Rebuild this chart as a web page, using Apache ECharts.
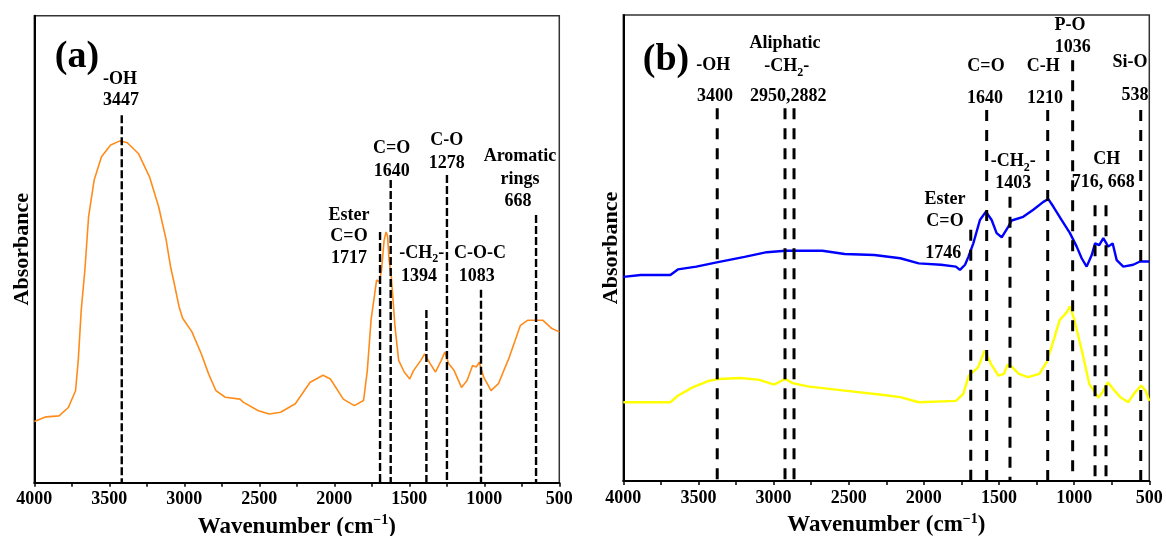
<!DOCTYPE html>
<html>
<head>
<meta charset="utf-8">
<script src="https://cdn.jsdelivr.net/npm/echarts@6/dist/echarts.min.js"></script>
<style>
html,body{margin:0;padding:0;background:#fff;}
#c{width:1166px;height:536px;}
</style>
</head>
<body>
<div id="c"></div>
<script>
// ---------- Panel (a) data: wavenumber (cm-1) and absorbance (a.u.) ----------
const wnA = [4000,3921,3835,3773,3725,3707,3687,3663,3638,3601,3552,3491,3429,3380,3306,3232,3171,3121,3092,3072,3035,3011,2949,2887,2838,2789,2727,2629,2605,2506,2432,2358,2260,2161,2075,2026,1940,1866,1805,1780,1755,1718,1700,1685,1668,1655,1645,1635,1620,1595,1571,1534,1497,1472,1423,1398,1361,1325,1287,1263,1238,1201,1152,1115,1078,1053,1034,1004,955,906,833,759,709,611,549,500];
const absA = [13.1,14.1,14.3,16.1,19.7,26.2,37.0,45.5,57.0,64.8,69.8,72.3,73.2,72.8,70.5,65.5,59.1,52.0,46.3,43.4,37.7,35.2,32.3,27.6,23.3,19.7,18.3,17.9,17.2,15.4,14.7,15.1,16.9,21.5,23.0,22.2,17.9,16.5,17.6,24.0,34.8,43.4,43.0,45.5,51.9,53.7,52.8,47.7,44.1,33.3,26.2,23.7,22.2,24.0,26.2,27.6,25.5,23.7,26.2,28.0,25.5,24.0,20.4,21.9,25.1,24.8,25.8,22.6,19.7,21.2,26.9,33.7,34.8,34.8,33.0,32.3];

// dashed marker lines in (a): drawn position and top (a.u.)
const markWnA  = [3417,1695,1624,1386,1249,1022,655];
const markTopA = [78.7,53.7,64.8,37.0,65.9,41.3,57.3];

// ---------- Panel (b) data ----------
const wnBlue = [4000,3884,3687,3637,3514,3378,3193,3045,2922,2675,2527,2330,2157,2034,1886,1787,1760,1726,1704,1671,1627,1587,1549,1516,1482,1438,1416,1339,1272,1205,1172,1139,1083,1028,983,950,917,883,861,833,806,773,744,717,673,607,562,507,500];
const absBlue = [43.8,44.2,44.2,45.4,46.0,46.9,48.1,49.1,49.4,49.4,48.7,48.5,47.8,46.7,46.4,46.0,45.3,46.4,48.1,51.0,56.0,57.8,56.0,53.2,52.3,54.6,55.9,56.7,58.2,59.9,60.5,58.9,56.0,53.2,50.3,47.8,46.0,48.5,51.0,50.6,52.1,50.3,51.0,47.4,46.0,46.4,47.1,47.1,47.1];

const wnYellow = [4000,3687,3637,3539,3440,3366,3218,3095,2996,2922,2873,2774,2527,2281,2157,2034,1787,1738,1701,1639,1595,1553,1504,1467,1442,1418,1368,1307,1232,1183,1134,1097,1047,1028,998,949,899,838,813,776,739,690,640,603,554,525,500];
const absYellow = [16.9,16.9,18.3,20.1,21.4,21.9,22.1,21.7,20.7,21.9,21.0,20.3,19.4,18.5,18.0,16.9,17.2,18.7,22.6,24.4,28.0,25.1,22.6,23.0,25.0,24.6,23.0,22.3,23.0,25.5,30.5,34.5,36.3,37.5,34.5,28.0,20.8,17.9,19.0,21.2,19.7,17.9,16.9,18.7,20.5,19.4,17.2];

const markWnB  = [3375,2924,2864,1688,1582,1427,1176,1010,861,788,557];
const markTopB = [80.0,80.0,80.0,53.9,79.6,61.0,79.6,90.3,59.2,59.2,79.6];

// x-axis ticks
const xMin = 500, xMax = 4000, xStep = 500;

// annotation texts: [text, centerX, centerY]
const labelsA = [
  ['-OH',120,79],['3447',121,100],
  ['C=O',391.7,148.3],['1640',391.7,171.7],
  ['C-O',446.7,140],['1278',446.7,163.3],
  ['Aromatic',520,156.7],['rings',520,179.3],['668',518,201.7],
  ['Ester',349,215],['C=O',349,236],['1717',349,258.3],
  ['-CH{s|2}-',421.7,253.3],['1394',419,276.7],
  ['C-O-C',480,253.3],['1083',476.7,276.7]
];
const labelsB = [
  ['-OH',713.3,65.7],['3400',715,96.7],
  ['Aliphatic',785,43.3],['-CH{s|2}-',786.7,66.7],['2950,2882',788.3,96.7],
  ['C=O',986,66.7],['1640',985,98.3],
  ['C-H',1043.3,66.7],['1210',1045,98.3],
  ['P-O',1070,25],['1036',1072.7,47.7],
  ['Si-O',1130,62.7],['538',1135,95],
  ['-CH{s|2}-',1013.3,161.7],['1403',1013.3,183.3],
  ['CH',1106.7,159.3],['716, 668',1103.3,182.7],
  ['Ester',945,199.3],['C=O',945,221.7],['1746',943.3,253.3]
];

const FONT = "'Liberation Serif','Times New Roman',serif";

function pairs(xs, ys){ return xs.map((x,i)=>[x, ys[i]]); }

function xAxisCfg(idx){
  return {
    type:'value', gridIndex: idx, inverse:true, min:xMin, max:xMax, interval:xStep,
    name:'Wavenumber (cm{sup|\u22121})', nameLocation:'middle', nameGap:29,
    nameTextStyle:{fontFamily:FONT,fontWeight:'bold',fontSize:23,color:'#000',
      rich:{sup:{fontFamily:FONT,fontWeight:'bold',fontSize:14,color:'#000',verticalAlign:'top',lineHeight:27}}},
    axisLine:{show:true,onZero:false,lineStyle:{color:'#000',width:2}},
    axisTick:{show:true,inside:false,length:4,lineStyle:{color:'#000',width:1.5}},
    minorTick:{show:true,splitNumber:2,length:4,lineStyle:{color:'#000',width:1.5}},
    axisLabel:{fontFamily:FONT,fontWeight:'bold',fontSize:18,color:'#000',margin:8,
      formatter:function(v){return String(v);}},
    splitLine:{show:false}
  };
}
function yAxisCfg(idx){
  return {
    type:'value', gridIndex: idx, min:0, max:100,
    name:'Absorbance', nameLocation:'middle', nameGap:1, nameRotate:90,
    nameTextStyle:{fontFamily:FONT,fontWeight:'bold',fontSize:22,color:'#000'},
    axisLine:{show:true,lineStyle:{color:'#000',width:2}},
    axisTick:{show:false}, axisLabel:{show:false}, splitLine:{show:false}
  };
}

const series = [];
function addMarks(wns, tops, gi, dash, w){
  wns.forEach((wn,i)=>{
    series.push({
      type:'line', xAxisIndex:gi, yAxisIndex:gi, data:[[wn,tops[i]],[wn,0]],
      symbol:'none', silent:true, animation:false, z:3,
      lineStyle:{color:'#000',width:w,type:dash}
    });
  });
}
series.push({type:'line',xAxisIndex:0,yAxisIndex:0,data:pairs(wnA,absA),symbol:'none',animation:false,z:2,
  lineStyle:{color:'#FF8C1A',width:1.6}});
series.push({type:'line',xAxisIndex:1,yAxisIndex:1,data:pairs(wnBlue,absBlue),symbol:'none',animation:false,z:2,
  lineStyle:{color:'#0000FF',width:2.4}});
series.push({type:'line',xAxisIndex:1,yAxisIndex:1,data:pairs(wnYellow,absYellow),symbol:'none',animation:false,z:2,
  lineStyle:{color:'#FFFF00',width:2.4}});
addMarks(markWnA, markTopA, 0, [8,3], 2.4);
addMarks(markWnB, markTopB, 1, [11,9], 3);

const graphics = [];
function addLabels(list){
  list.forEach(l=>{
    graphics.push({type:'text', x:l[1], y:l[2], z:10, silent:true,
      style:{text:l[0], fill:'#000', fontFamily:FONT, fontWeight:'bold', fontSize:18, lineHeight:24,
        align:'center', verticalAlign:'middle',
        rich:{s:{fontFamily:FONT,fontWeight:'bold',fontSize:12,fill:'#000',verticalAlign:'bottom',lineHeight:11}}}});
  });
}
addLabels(labelsA);
addLabels(labelsB);
graphics.push({type:'text',x:77,y:57,z:10,silent:true,style:{text:'(a)',fill:'#000',fontFamily:FONT,fontWeight:'bold',fontSize:38,align:'center',verticalAlign:'middle'}});
graphics.push({type:'text',x:666,y:60,z:10,silent:true,style:{text:'(b)',fill:'#000',fontFamily:FONT,fontWeight:'bold',fontSize:38,align:'center',verticalAlign:'middle'}});

const chart = echarts.init(document.getElementById('c'), null, {renderer:'canvas'});
chart.setOption({
  backgroundColor:'#fff',
  animation:false,
  grid:[
    {left:34.3, top:15.7, width:525, height:467, show:true, borderColor:'#333', borderWidth:1.5, containLabel:false, outerBoundsMode:'none'},
    {left:623.3, top:15, width:526, height:466, show:true, borderColor:'#333', borderWidth:1.5, containLabel:false, outerBoundsMode:'none'}
  ],
  xAxis:[xAxisCfg(0), xAxisCfg(1)],
  yAxis:[yAxisCfg(0), yAxisCfg(1)],
  series: series,
  graphic: graphics
});
</script>
</body>
</html>
